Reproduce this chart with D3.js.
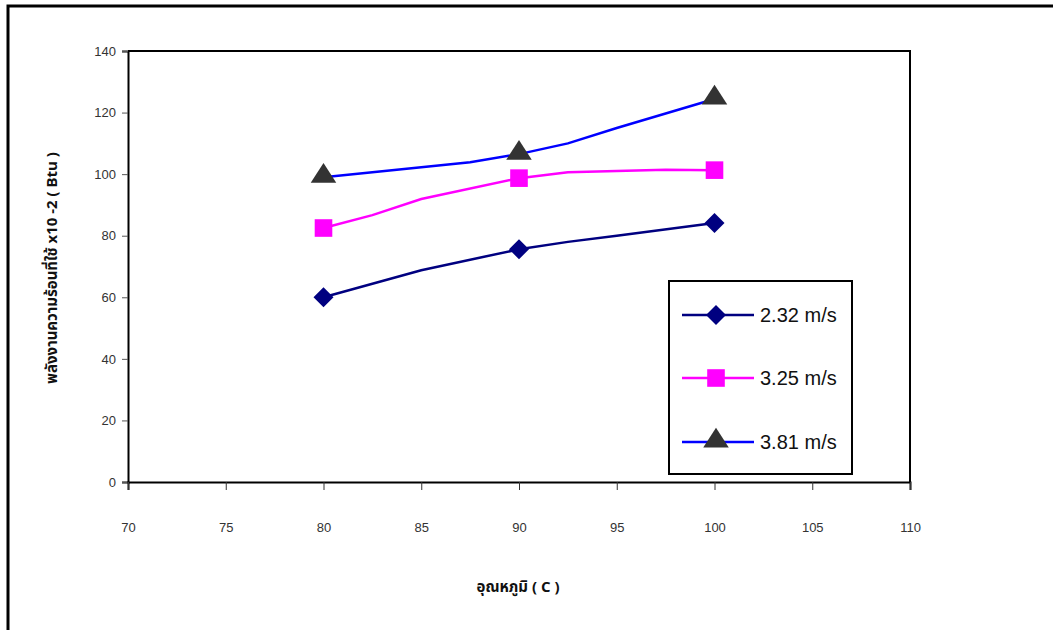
<!DOCTYPE html>
<html>
<head>
<meta charset="utf-8">
<script src="https://cdn.jsdelivr.net/npm/d3@7"></script>
<style>
  body { margin: 0; background: #fff; }
  svg { display: block; }
</style>
</head>
<body>
<svg id="chart" width="1053" height="630"></svg>
<script>
// ---- data ----
const xTicks = [70, 75, 80, 85, 90, 95, 100, 105, 110];
const yTicks = [0, 20, 40, 60, 80, 100, 120, 140];
const seriesNames = ["2.32 m/s", "3.25 m/s", "3.81 m/s"];
const markerX = [80, 90, 100];
const s1x = [80, 85, 90, 92.5, 95, 100];
const s1y = [60, 68.8, 75.6, 78, 80, 84.1];
const s2x = [80, 82.5, 85, 90, 92.5, 97.5, 100];
const s2y = [82.5, 86.7, 91.9, 98.7, 100.6, 101.4, 101.3];
const s3x = [80, 87.5, 90, 92.5, 95, 100];
const s3y = [99, 103.9, 106.5, 110, 115, 124.4];
const xLabel = "อุณหภูมิ ( C )";
const yLabel = "พลังงานความร้อนที่ใช้ x10 -2 ( Btu )";

const series = [
  {name: seriesNames[0], xs: s1x, ys: s1y, line: "#000080", fill: "#000080", shape: "diamond"},
  {name: seriesNames[1], xs: s2x, ys: s2y, line: "#ff00ff", fill: "#ff00ff", shape: "square"},
  {name: seriesNames[2], xs: s3x, ys: s3y, line: "#0000ff", fill: "#333333", shape: "triangle"}
];

const svg = d3.select("#chart");
const thai = "'Noto Sans Thai', 'Tahoma', 'Loma', 'Garuda', 'Liberation Sans', sans-serif";

// outer frame (cropped at right/bottom)
svg.append("path").attr("d", "M8,640 L8,6 L1060,6")
  .attr("fill", "none").attr("stroke", "#000").attr("stroke-width", 3);

const L = 128, R = 910, T = 51, B = 482;
const x = d3.scaleLinear().domain([70, 110]).range([L, R]);
const y = d3.scaleLinear().domain([0, 140]).range([B, T]);

// plot frame top/right
svg.append("path").attr("d", `M${L},${T} L${R},${T} L${R},${B}`)
  .attr("fill", "none").attr("stroke", "#000").attr("stroke-width", 2);

// y axis
const yAxis = svg.append("g").attr("transform", `translate(${L},0)`)
  .call(d3.axisLeft(y).tickValues(yTicks).tickSize(6).tickPadding(6).tickFormat(d3.format("d")));
yAxis.select(".domain").attr("stroke", "#000").attr("stroke-width", 2);
yAxis.selectAll(".tick line").attr("stroke", "#555");
yAxis.selectAll("text").attr("font-family", "'Liberation Sans', Arial, sans-serif")
  .attr("font-size", 13).attr("fill", "#333");

// x axis
const xAxis = svg.append("g").attr("transform", `translate(0,${B})`)
  .call(d3.axisBottom(x).tickValues(xTicks).tickSize(8).tickPadding(0).tickFormat(d3.format("d")));
xAxis.select(".domain").attr("stroke", "#000").attr("stroke-width", 2);
xAxis.selectAll(".tick line").attr("stroke", "#333");
xAxis.selectAll("text").attr("font-family", "'Liberation Sans', Arial, sans-serif")
  .attr("font-size", 13).attr("fill", "#333").attr("dy", 0).attr("y", 50);

// lines
const line = d3.line().x(d => x(d[0])).y(d => y(d[1]));
const sizes = {diamond: 200, square: 310, triangle: 225};
function markerPath(shape) {
  if (shape === "triangle") return d3.symbol(d3.symbolTriangle, sizes.triangle)();
  return d3.symbol(d3.symbolSquare, sizes[shape])();
}
function markerTf(shape, cx, cy) {
  if (shape === "diamond") return `translate(${cx},${cy}) rotate(45)`;
  if (shape === "triangle") return `translate(${cx},${cy - 1}) scale(1.12,1)`;
  return `translate(${cx},${cy})`;
}
series.forEach(s => {
  const pts = s.xs.map((v, i) => [v, s.ys[i]]);
  svg.append("path").datum(pts).attr("d", line)
    .attr("fill", "none").attr("stroke", s.line).attr("stroke-width", 2.5);
});
series.forEach(s => {
  const pts = markerX.map(mx => [mx, s.ys[s.xs.indexOf(mx)]]);
  svg.selectAll(null).data(pts).enter().append("path")
    .attr("d", markerPath(s.shape))
    .attr("transform", d => markerTf(s.shape, x(d[0]), y(d[1])))
    .attr("fill", s.fill);
});

// legend
const lg = svg.append("g");
lg.append("rect").attr("x", 669).attr("y", 281).attr("width", 183).attr("height", 193)
  .attr("fill", "#fff").attr("stroke", "#000").attr("stroke-width", 2);
const legY = [315, 378, 442];
series.forEach((s, i) => {
  lg.append("line").attr("x1", 682).attr("x2", 754).attr("y1", legY[i]).attr("y2", legY[i])
    .attr("stroke", s.line).attr("stroke-width", 2.5);
  lg.append("path").attr("d", markerPath(s.shape))
    .attr("transform", markerTf(s.shape, 716, legY[i]))
    .attr("fill", s.fill);
  lg.append("text").attr("x", 760).attr("y", legY[i] + 7)
    .attr("font-family", "'Liberation Sans', Arial, sans-serif").attr("font-size", 20)
    .attr("fill", "#111").text(s.name);
});

// axis titles
svg.append("text").attr("x", 518).attr("y", 592).attr("text-anchor", "middle")
  .attr("font-family", thai).attr("font-weight", "bold").attr("font-size", 15)
  .attr("fill", "#111").text(xLabel);
svg.append("text").attr("transform", "translate(57,268) rotate(-90)")
  .attr("text-anchor", "middle")
  .attr("font-family", thai).attr("font-weight", "bold").attr("font-size", 15)
  .attr("fill", "#111").text(yLabel);
</script>
</body>
</html>
